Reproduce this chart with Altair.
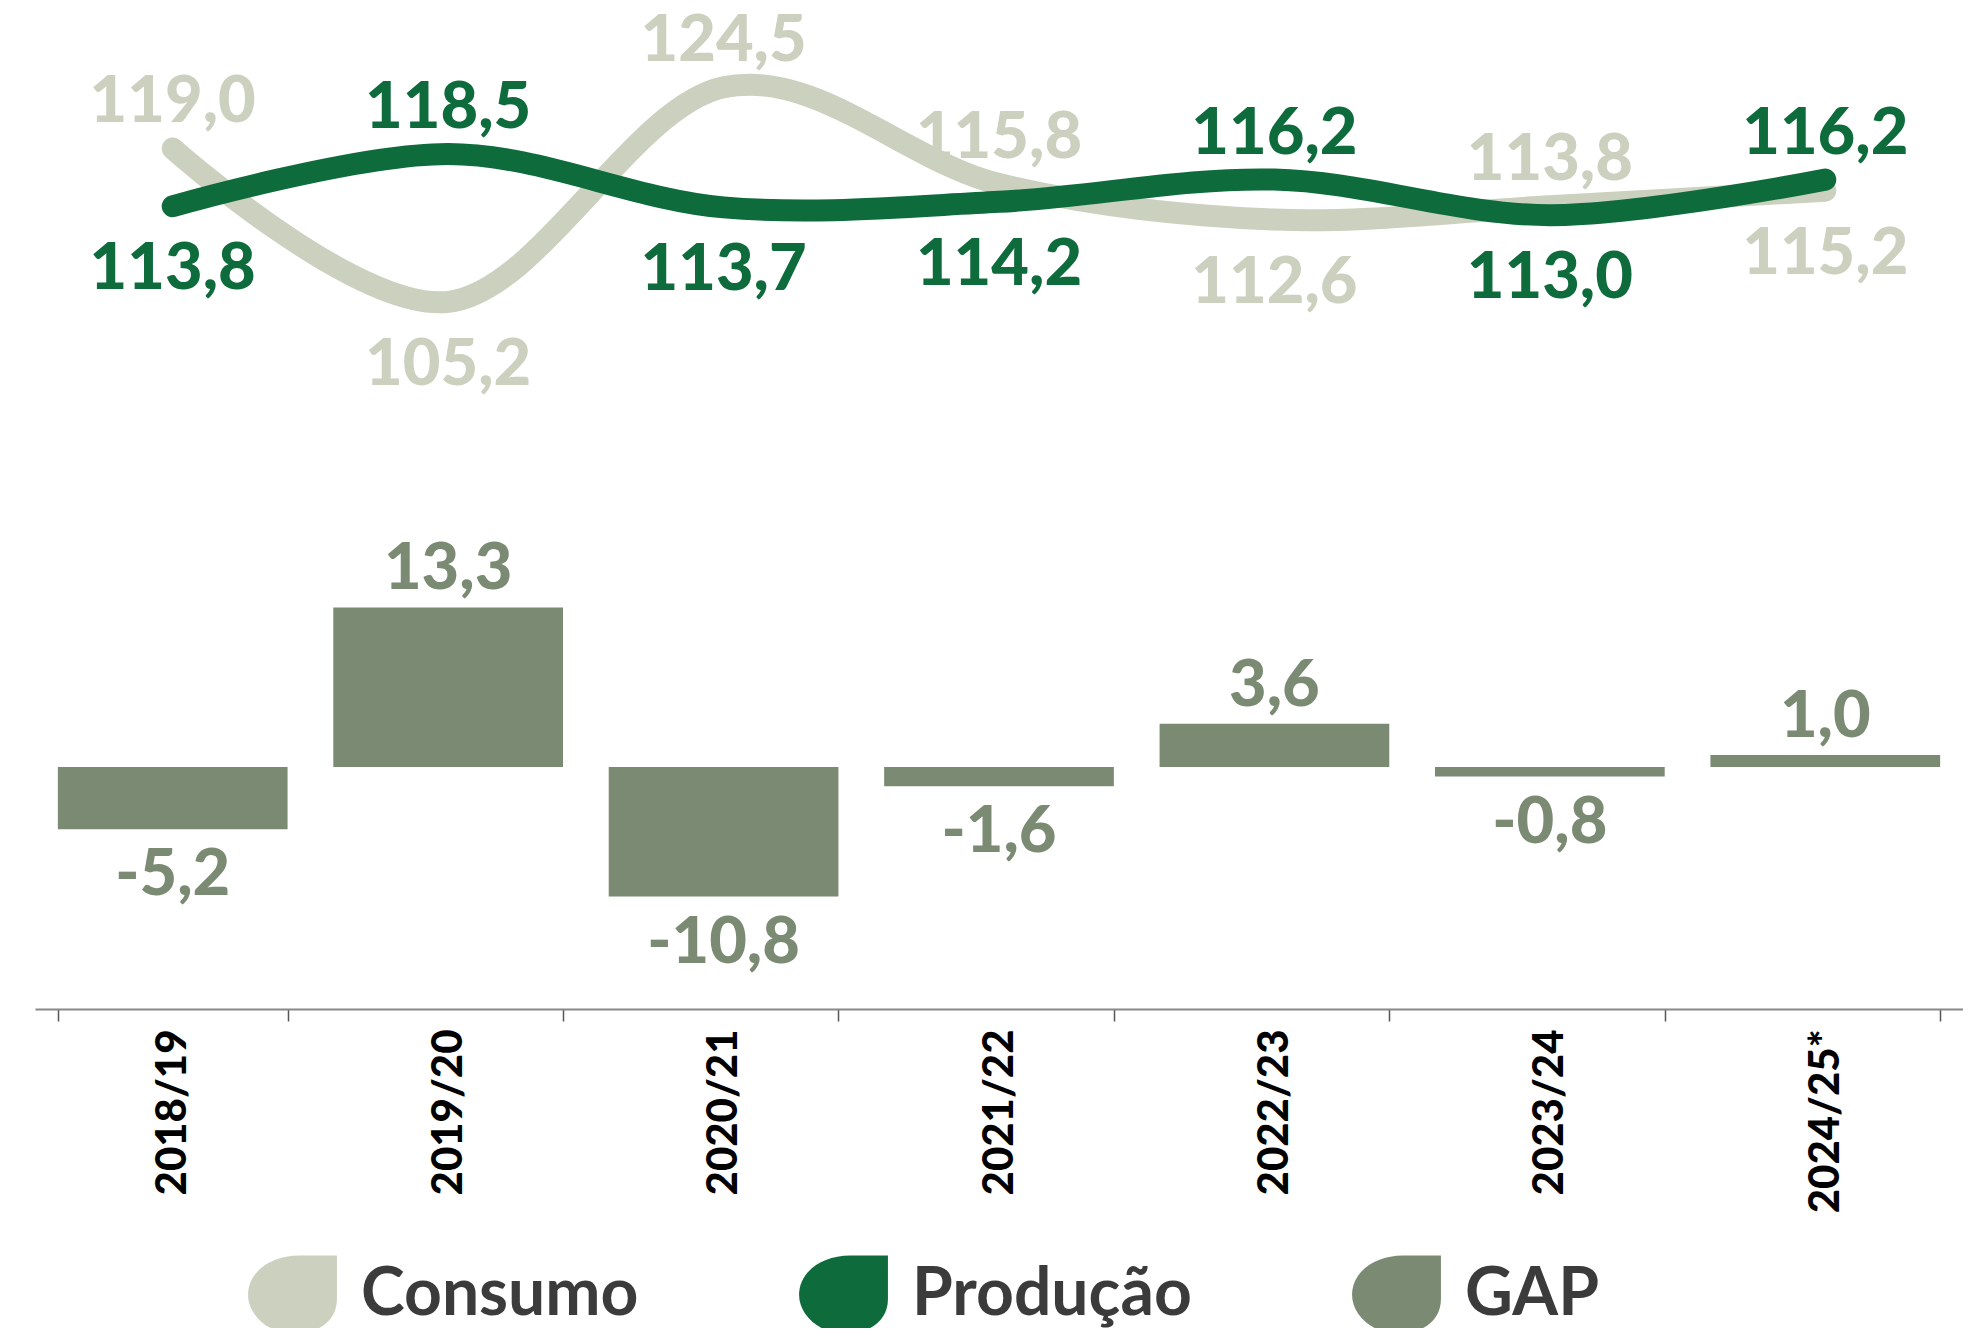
import altair as alt
import pandas as pd

years = ["2018/19", "2019/20", "2020/21", "2021/22", "2022/23", "2023/24", "2024/25*"]
consumo = [119.0, 105.2, 124.5, 115.8, 112.6, 113.8, 115.2]
producao = [113.8, 118.5, 113.7, 114.2, 116.2, 113.0, 116.2]
gap = [-5.2, 13.3, -10.8, -1.6, 3.6, -0.8, 1.0]
series_names = ["Consumo", "Produção", "GAP"]
series_colors = ["#cbd0bf", "#0e6b3c", "#7b8a72"]


def fmt(v):
    return f"{v:.1f}".replace(".", ",")


rows = []
for i, yr in enumerate(years):
    c, p = consumo[i], producao[i]
    rows.append(dict(year=yr, series="Consumo", value=c, label=fmt(c),
                     pos="above" if c >= p else "below"))
    rows.append(dict(year=yr, series="Produção", value=p, label=fmt(p),
                     pos="above" if p > c else "below"))
lines_df = pd.DataFrame(rows)
gap_df = pd.DataFrame(dict(year=years, series="GAP", value=gap,
                           label=[fmt(g) for g in gap],
                           pos=["above" if g > 0 else "below" for g in gap]))

FONT = "Lato"
W, H = 1928, 1001

color_scale = alt.Scale(domain=series_names, range=series_colors)
leaf = ("M0.15,-0.88 L1,-0.88 L1,0.1 C1,0.6 0.55,0.88 0.05,0.88 "
        "C-0.55,0.88 -1,0.45 -1,0 C-1,-0.5 -0.5,-0.88 0.15,-0.88 Z")

x_enc = alt.X("year:N", sort=years, title=None,
              scale=alt.Scale(paddingInner=0.166, paddingOuter=0.083),
              axis=alt.Axis(labelAngle=-90, labelFontSize=42, labelFont=FONT,
                            labelFontWeight=900, labelColor="#000000",
                            labelLimit=400,
                            tickBand="extent", tickSize=12, tickColor="#555555",
                            tickWidth=1.5, domainColor="#888888", domainWidth=2,
                            labelPadding=8, grid=False))

y_line = alt.Y("value:Q", scale=alt.Scale(domain=[41.61, 131.63], nice=False, zero=False),
               axis=None)
y_bar = alt.Y("value:Q", scale=alt.Scale(domain=[-20.17, 63.25], nice=False),
              axis=None)

no_leg = alt.Color("series:N", scale=color_scale, legend=None)

line_base = alt.Chart(lines_df)

line_c = line_base.transform_filter(alt.datum.series == "Consumo").mark_line(
    strokeWidth=22, strokeCap="round", interpolate="cardinal"
).encode(x=x_enc, y=y_line, color=no_leg)

line_p = line_base.transform_filter(alt.datum.series == "Produção").mark_line(
    strokeWidth=22, strokeCap="round", interpolate="cardinal"
).encode(x=x_enc, y=y_line, color=no_leg)

lab_above = line_base.transform_filter(alt.datum.pos == "above").mark_text(
    font=FONT, fontWeight=900, fontSize=65, baseline="middle", dy=-46
).encode(x=x_enc, y=y_line, text="label:N", color=no_leg)

lab_below = line_base.transform_filter(alt.datum.pos == "below").mark_text(
    font=FONT, fontWeight=900, fontSize=65, baseline="middle", dy=63
).encode(x=x_enc, y=y_line, text="label:N", color=no_leg)

bar_base = alt.Chart(gap_df)

bars = bar_base.mark_bar().encode(
    x=x_enc, y=y_bar,
    color=alt.Color("series:N", scale=color_scale,
                    legend=alt.Legend(title=None, orient="none", legendX=213, legendY=1242,
                                      direction="horizontal", symbolType=leaf,
                                      symbolSize=7900, symbolStrokeWidth=0,
                                      labelFontSize=66, labelFont=FONT,
                                      labelFontWeight="bold", labelColor="#3b3b3b",
                                      columnPadding=160, labelOffset=24,
                                      labelLimit=600))
)

bar_lab_above = bar_base.transform_filter(alt.datum.pos == "above").mark_text(
    font=FONT, fontWeight=900, fontSize=65, baseline="middle", dy=-38
).encode(x=x_enc, y=y_bar, text="label:N", color=no_leg)

bar_lab_below = bar_base.transform_filter(alt.datum.pos == "below").mark_text(
    font=FONT, fontWeight=900, fontSize=65, baseline="middle", dy=46
).encode(x=x_enc, y=y_bar, text="label:N", color=no_leg)

chart = alt.layer(
    bars, bar_lab_above, bar_lab_below, line_c, line_p, lab_above, lab_below
).resolve_scale(y="independent").properties(
    width=W, height=H,
    autosize=alt.AutoSizeParams(type="none"),
    padding={"left": 27, "top": 0, "right": 0, "bottom": 319},
).configure(background="white").configure_view(stroke=None)

chart.save("out.html", embed_options={"renderer": "svg", "actions": False})
